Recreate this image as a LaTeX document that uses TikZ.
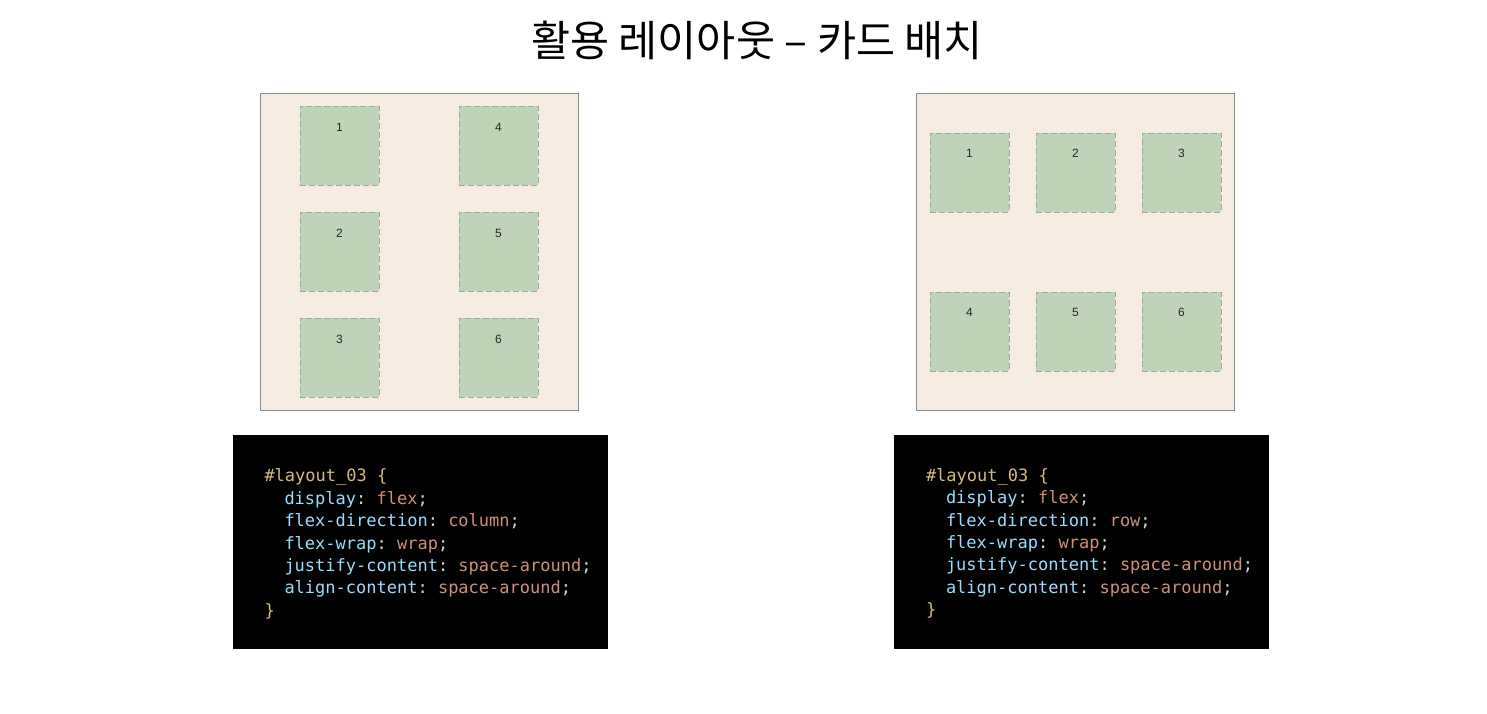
\documentclass[tikz,border=0pt]{standalone}
\usepackage{fontspec}
\setmainfont{Liberation Sans}
\setmonofont{DejaVu Sans Mono}
\newfontfamily\hangul{Noto Sans CJK KR}
\usetikzlibrary{positioning}
\definecolor{panelbg}{HTML}{F7ECE2}
\definecolor{cardbg}{HTML}{BFD3B9}
\definecolor{cardline}{HTML}{9BAB96}
\definecolor{csssel}{HTML}{D7BA7D}
\definecolor{cssprop}{HTML}{9CDCFE}
\definecolor{cssval}{HTML}{CE9178}
\definecolor{csspunct}{HTML}{D4D4D4}
\tikzset{panel/.style = {draw=black!45, fill=panelbg, line width=0.8pt,
                         minimum width=318, minimum height=317, inner sep=0}}
\tikzset{card/.style = {draw=cardline, dashed, dash pattern=on 6pt off 3pt,
                        fill=cardbg, line width=0.6pt,
                        minimum size=79, inner sep=0}}
\tikzset{num/.style = {font=\fontsize{12}{14}\selectfont, text=black!85}}
\tikzset{codebox/.style = {fill=black, minimum width=375, minimum height=214, inner sep=0}}
\tikzset{codeline/.style = {anchor=base west, inner sep=0,
                            font=\ttfamily\fontsize{17}{20}\selectfont}}
\newcommand{\csel}[1]{\textcolor{csssel}{#1}}
\newcommand{\cprop}[1]{\textcolor{cssprop}{#1}}
\newcommand{\cval}[1]{\textcolor{cssval}{#1}}
\newcommand{\cpun}[1]{\textcolor{csspunct}{#1}}

\begin{document}
\begin{tikzpicture}[x=1pt, y=-1pt]
  \useasboundingbox (0, 0) rectangle (1487, 713);
  \node [font=\hangul\fontsize{42.5}{48}\selectfont] (title) at (757, 40) {활용 레이아웃 – 카드 배치};

  % column layout
  \node [panel] (colpanel) at (419, 251.5) {};
  \foreach \n/\x/\y in {1/339.5/145.5, 2/339.5/251.5, 3/339.5/357.5,
                        4/498.5/145.5, 5/498.5/251.5, 6/498.5/357.5} {
    \node [card] (col\n) at (\x, \y) {};
    \node [num] at ([yshift=-22]col\n.north) {\n};
  }

  % row layout
  \node [panel] (rowpanel) at (1075.5, 251.5) {};
  \foreach \n/\x/\y in {1/969.5/172.5, 2/1075.5/172.5, 3/1181.5/172.5,
                        4/969.5/331.5, 5/1075.5/331.5, 6/1181.5/331.5} {
    \node [card] (row\n) at (\x, \y) {};
    \node [num] at ([yshift=-21]row\n.north) {\n};
  }

  % code
  \node [codebox] (colcode) at (420, 542) {};
  \node [codebox] (rowcode) at (1081.5, 541.5) {};
  \foreach \cb/\dir in {colcode/column, rowcode/row} {
    \node [codeline] at ([xshift=32, yshift=-47]\cb.north west) {\csel{\#layout\_03 \{}};
    \node [codeline] at ([xshift=52, yshift=-69.4]\cb.north west) {\cprop{display}\cpun{:} \cval{flex}\cpun{;}};
    \node [codeline] at ([xshift=52, yshift=-91.8]\cb.north west) {\cprop{flex-direction}\cpun{:} \cval{\dir}\cpun{;}};
    \node [codeline] at ([xshift=52, yshift=-114.2]\cb.north west) {\cprop{flex-wrap}\cpun{:} \cval{wrap}\cpun{;}};
    \node [codeline] at ([xshift=52, yshift=-136.6]\cb.north west) {\cprop{justify-content}\cpun{:} \cval{space-around}\cpun{;}};
    \node [codeline] at ([xshift=52, yshift=-159]\cb.north west) {\cprop{align-content}\cpun{:} \cval{space-around}\cpun{;}};
    \node [codeline] at ([xshift=32, yshift=-181.4]\cb.north west) {\csel{\}}};
  }
\end{tikzpicture}
\end{document}
